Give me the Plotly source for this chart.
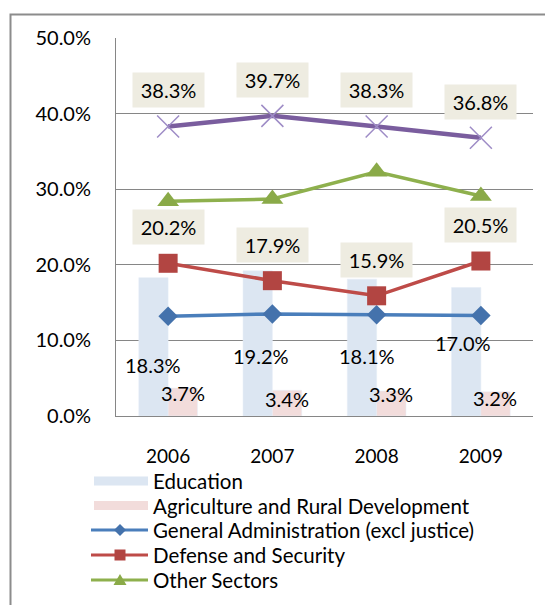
import plotly.graph_objects as go

# ---- data ----
years = ["2006", "2007", "2008", "2009"]
education = [18.3, 19.2, 18.1, 17.0]
agriculture = [3.7, 3.4, 3.3, 3.2]
general_admin = [13.2, 13.5, 13.4, 13.3]
defense = [20.2, 17.9, 15.9, 20.5]
other_sectors = [28.4, 28.7, 32.3, 29.1]
top_series = [38.3, 39.7, 38.3, 36.8]
y_ticks = [0, 10, 20, 30, 40, 50]
legend_names = ["Education", "Agriculture and Rural Development",
                "General Administration (excl justice)", "Defense and Security", "Other Sectors"]

# label placement (positions only)
edu_label_y = [6.77, 7.94, 7.94, 9.66]
edu_label_dx = [-15.5, -11, -10, -17.5]
agri_label_y = [3.07, 2.30, 2.96, 2.43]
agri_label_dx = 14.5

FONT = "Lato"
GRID = "#868686"
C_EDU, C_AGR = "#DCE6F2", "#F2DCDB"
C_BLUE, C_BLUE_M = "#4A7EBB", "#4472AC"
C_RED, C_RED_M = "#BE4B48", "#B24542"
C_GRN, C_GRN_M = "#8EB04D", "#8AAA48"
C_PUR, C_PUR_M = "#7A5D9E", "#9E8CC6"

fig = go.Figure()

fig.add_trace(go.Bar(x=years, y=education, marker_color=C_EDU, showlegend=False,
                     hoverinfo="skip", name=legend_names[0]))
fig.add_trace(go.Bar(x=years, y=agriculture, marker_color=C_AGR, showlegend=False,
                     hoverinfo="skip", name=legend_names[1]))
fig.add_trace(go.Scatter(x=years, y=general_admin, mode="lines+markers", name=legend_names[2],
                         showlegend=False,
                         line=dict(color=C_BLUE, width=3.5),
                         marker=dict(symbol="diamond", size=15, color=C_BLUE_M)))
fig.add_trace(go.Scatter(x=years, y=defense, mode="lines+markers", name=legend_names[3],
                         showlegend=False,
                         line=dict(color=C_RED, width=3.5),
                         marker=dict(symbol="square", size=19, color=C_RED_M)))
fig.add_trace(go.Scatter(x=years, y=other_sectors, mode="lines+markers", name=legend_names[4],
                         showlegend=False,
                         line=dict(color=C_GRN, width=3.5),
                         marker=dict(symbol="triangle-up", size=19, color=C_GRN_M)))
fig.add_trace(go.Scatter(x=years, y=top_series, mode="lines+markers", name="", showlegend=False,
                         line=dict(color=C_PUR, width=4.5),
                         marker=dict(symbol="x-thin", size=22, line=dict(color=C_PUR_M, width=1.5))))

W, H = 545, 605
L, R, T, B = 116, 12, 38, 189
pw, ph = W - L - R, H - T - B


def px(x):
    return (x - L) / pw


def py(y):
    return (H - B - y) / ph


LBL = dict(family=FONT, size=20, color="#000")
ann = []
for i, yr in enumerate(years):
    ann.append(dict(x=i, y=top_series[i], yshift=36, text=f"{top_series[i]:.1f}%",
                    showarrow=False, bgcolor="#EEECE1", borderpad=7, width=57, height=20, font=LBL))
    ann.append(dict(x=i, y=defense[i], yshift=36, text=f"{defense[i]:.1f}%",
                    showarrow=False, bgcolor="#EEECE1", borderpad=7, width=57, height=20, font=LBL))
    ann.append(dict(x=i, y=edu_label_y[i], xshift=edu_label_dx[i], text=f"{education[i]:.1f}%",
                    showarrow=False, font=LBL))
    ann.append(dict(x=i, y=agri_label_y[i], xshift=agri_label_dx, text=f"{agriculture[i]:.1f}%",
                    showarrow=False, font=LBL))

shapes = [dict(type="rect", xref="paper", yref="paper",
               x0=px(10.5), x1=px(560), y0=py(620), y1=py(14.5),
               line=dict(color="#8C8C8C", width=2), fillcolor="rgba(0,0,0,0)", layer="above")]

# ---- manual legend ----
rows = [481, 505.5, 530, 555, 580]
lx0, lx1, mx, tx = 91, 148, 120, 151
for k, name in enumerate(legend_names):
    yc = rows[k]
    ann.append(dict(x=px(tx), y=py(yc), xref="paper", yref="paper", xanchor="left", yanchor="middle",
                    text=name, showarrow=False, font=dict(family=FONT, size=20.5, color="#000")))
    if k < 2:
        shapes.append(dict(type="rect", xref="paper", yref="paper",
                           x0=px(94), x1=px(lx1), y0=py(yc + 4.5), y1=py(yc - 4.5),
                           fillcolor=[C_EDU, C_AGR][k], line=dict(width=0)))
    else:
        col, mcol = [(C_BLUE, C_BLUE_M), (C_RED, C_RED_M), (C_GRN, C_GRN_M)][k - 2]
        shapes.append(dict(type="line", xref="paper", yref="paper",
                           x0=px(lx0), x1=px(lx1), y0=py(yc), y1=py(yc),
                           line=dict(color=col, width=3)))
        if k == 2:
            pts = [(mx - 6, yc), (mx, yc - 6), (mx + 6, yc), (mx, yc + 6)]
        elif k == 3:
            pts = [(mx - 5.5, yc - 5.5), (mx + 5.5, yc - 5.5), (mx + 5.5, yc + 5.5), (mx - 5.5, yc + 5.5)]
        else:
            pts = [(mx - 6.5, yc + 5), (mx + 6.5, yc + 5), (mx, yc - 6)]
        path = "M " + " L ".join(f"{px(a):.5f},{py(b):.5f}" for a, b in pts) + " Z"
        shapes.append(dict(type="path", xref="paper", yref="paper", path=path,
                           fillcolor=mcol, line=dict(width=0)))

fig.update_layout(
    width=W, height=H,
    margin=dict(l=L, r=R, t=T, b=B),
    paper_bgcolor="white", plot_bgcolor="white",
    barmode="group", bargap=0.4375, bargroupgap=0,
    font=dict(family=FONT, color="#000"),
    annotations=ann, shapes=shapes, showlegend=False,
    xaxis=dict(type="category", range=[-0.5, 3.5], showgrid=False, showline=True,
               linecolor=GRID, linewidth=1, ticks="",
               tickfont=dict(family=FONT, size=19, color="#000"),
               ticklabelstandoff=23, fixedrange=True),
    yaxis=dict(range=[0, 50], tickvals=y_ticks, ticktext=[f"{v:.1f}%" for v in y_ticks],
               showgrid=True, gridcolor=GRID, gridwidth=1, zeroline=False,
               showline=True, linecolor=GRID, linewidth=1, ticks="",
               tickfont=dict(family=FONT, size=20, color="#000"),
               ticklabelstandoff=20, fixedrange=True),
)

fig.write_html("out.html", config={"displayModeBar": False},
               post_script="document.body.style.margin='0px';document.body.style.overflow='hidden';")
